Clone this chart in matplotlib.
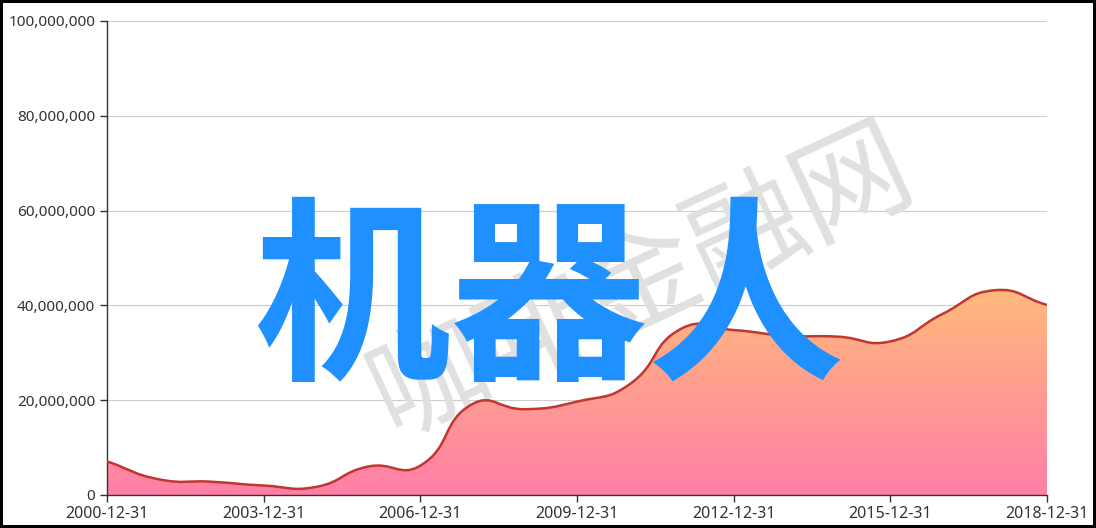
import numpy as np
import matplotlib
matplotlib.use('Agg')
import matplotlib.pyplot as plt
from matplotlib.path import Path
from matplotlib.patches import PathPatch, Rectangle
from matplotlib.colors import LinearSegmentedColormap

dates = ["2000-12-31", "2001-12-31", "2002-12-31", "2003-12-31", "2004-12-31",
         "2005-12-31", "2006-12-31", "2007-12-31", "2008-12-31", "2009-12-31",
         "2010-12-31", "2011-12-31", "2012-12-31", "2013-12-31", "2014-12-31",
         "2015-12-31", "2016-12-31", "2017-12-31", "2018-12-31"]
values = [7.1e6, 3.3e6, 2.8e6, 2.0e6, 1.7e6, 6.0e6, 6.2e6, 19.2e6, 18.1e6, 19.7e6,
          23.3e6, 35.1e6, 34.8e6, 33.6e6, 33.4e6, 32.4e6, 38.2e6, 43.2e6, 40.1e6]
yticks = [0, 20e6, 40e6, 60e6, 80e6, 100e6]
title_text = "机器人"
watermark = "咖啡金融网"

W, H = 1096, 528
fig = plt.figure(figsize=(W / 100, H / 100), dpi=100)
fig.patch.set_facecolor('white')
ax = fig.add_axes([107 / W, 1 - 495 / H, (1047 - 107) / W, (495 - 21) / H])
n = len(values)
x = np.arange(n)
ax.set_xlim(0, n - 1)
ax.set_ylim(0, 1e8)

# echarts-like smooth curve computed in display space
pts = ax.transData.transform(np.column_stack([x, values]))
smooth = 0.5
cps = []
for i in range(n):
    p = pts[i]
    prev = pts[max(i - 1, 0)]
    nxt = pts[min(i + 1, n - 1)]
    v = nxt - prev
    lp = np.linalg.norm(p - prev)
    ln = np.linalg.norm(nxt - p)
    s = lp + ln
    if s:
        lp /= s
        ln /= s
    cps.append((p - v * lp * smooth, p + v * ln * smooth))
verts = [pts[0]]
codes = [Path.MOVETO]
for i in range(n - 1):
    verts += [cps[i][1], cps[i + 1][0], pts[i + 1]]
    codes += [Path.CURVE4] * 3
dverts = ax.transData.inverted().transform(np.array(verts))

line_path = Path(dverts, codes)
fill_verts = list(dverts) + [(x[-1], 0), (x[0], 0), (x[0], values[0])]
fill_codes = codes + [Path.LINETO, Path.LINETO, Path.CLOSEPOLY]
fill_path = Path(fill_verts, fill_codes)

patch = PathPatch(fill_path, facecolor='none', edgecolor='none', zorder=2)
ax.add_patch(patch)
top = dverts[:, 1].max()
cmap = LinearSegmentedColormap.from_list('g', ['#ff7fa8', '#ffba7a'])
grad = np.linspace(0, 1, 256).reshape(-1, 1)
im = ax.imshow(grad, extent=[0, n - 1, 0, top], origin='lower', aspect='auto',
               cmap=cmap, zorder=2, interpolation='bilinear')
im.set_clip_path(patch)
ax.add_patch(PathPatch(line_path, facecolor='none', edgecolor='#c23531', lw=1.8, zorder=3))
ax.set_xlim(0, n - 1)
ax.set_ylim(0, 1e8)

# axes styling
for side in ['top', 'right']:
    ax.spines[side].set_visible(False)
for side in ['left', 'bottom']:
    ax.spines[side].set_color('#333333')
    ax.spines[side].set_linewidth(1)
ax.set_yticks(yticks)
ax.set_yticklabels([f"{int(v):,}" for v in yticks])
xt = list(range(0, n, 3))
ax.set_xticks(xt)
ax.set_xticklabels([dates[i] for i in xt])
ax.tick_params(axis='both', length=5, width=1, color='#333333', labelcolor='#333333',
               labelsize=11)
ax.tick_params(axis='y', pad=3.5)
ax.tick_params(axis='x', pad=3)
for lab in ax.get_yticklabels():
    lab.set_family('Noto Sans')
for lab in ax.get_xticklabels():
    lab.set_family('Noto Sans')
    lab.set_fontsize(11.5)
ax.set_axisbelow(True)
ax.yaxis.grid(True, color='#cccccc', lw=0.8)

# watermark (behind area)
ax.text(642 / W, 1 - 283 / H, watermark, transform=fig.transFigure, rotation=25,
        rotation_mode='anchor', ha='center', va='center', fontsize=84,
        color='#e0e0e0', family='Noto Sans CJK SC', zorder=1.5, clip_on=False)

# overlay title
ax.text(549 / W, 1 - 306 / H, title_text, transform=fig.transFigure, ha='center',
        va='center', fontsize=142, fontweight='bold', color='#1e90ff',
        family='Noto Sans CJK SC', zorder=10, clip_on=False)

fig.add_artist(Rectangle((0, 0), 1, 1, transform=fig.transFigure, fill=False,
                         edgecolor='black', linewidth=4.3))

fig.savefig('out.png', dpi=100)
